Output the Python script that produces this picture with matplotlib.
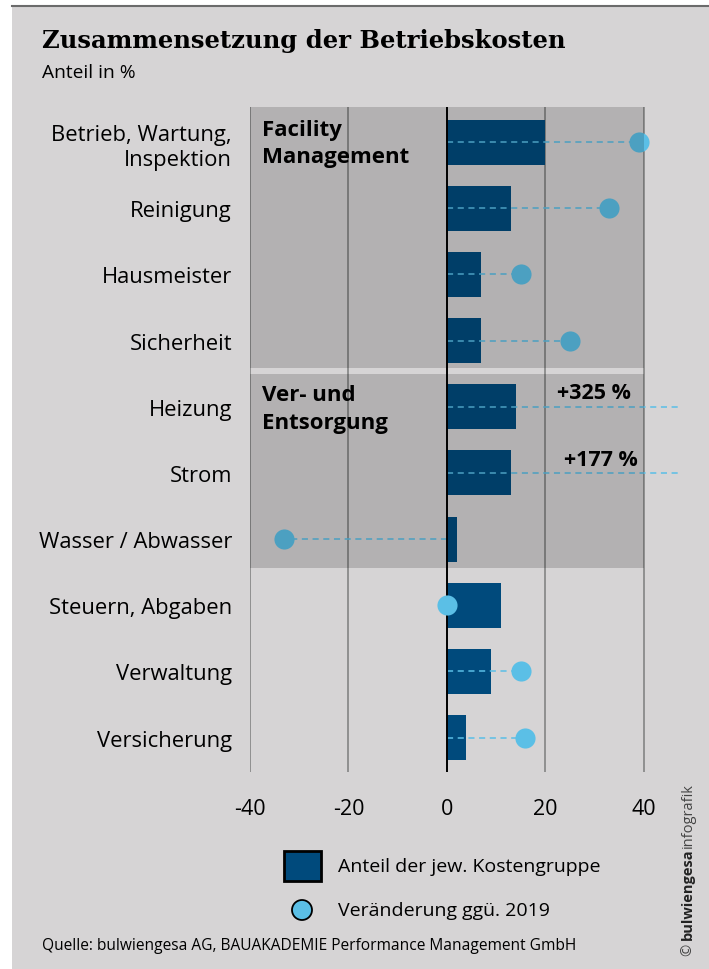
import numpy as np
import matplotlib.pyplot as plt
from matplotlib.patches import Rectangle, Ellipse
from matplotlib.lines import Line2D

plt.rcParams['font.family'] = ['Open Sans', 'DejaVu Sans']

kategorien = ['Betrieb, Wartung,\nInspektion', 'Reinigung', 'Hausmeister', 'Sicherheit',
              'Heizung', 'Strom', 'Wasser / Abwasser', 'Steuern, Abgaben',
              'Verwaltung', 'Versicherung']
anteil = [20, 13, 7, 7, 14, 13, 2, 11, 9, 4]
veraenderung = [39, 33, 15, 25, 325, 177, -33, 0, 15, 16]
x_ticks = [-40, -20, 0, 20, 40]

bg = '#d6d4d5'
bar_col = '#004a7c'
dot_col = '#5bbfe6'

W, H = 709, 970
fig = plt.figure(figsize=(W / 100, H / 100), dpi=100)
fig.patch.set_facecolor('white')
fig.patches.append(Rectangle((12 / W, 0), 1, 1 - 7 / H, transform=fig.transFigure,
                             facecolor=bg, edgecolor='none', zorder=0))
fig.add_artist(Line2D([12 / W, 1], [1 - 6.5 / H, 1 - 6.5 / H], color='#6b6b6b', lw=1.5))

ax = fig.add_axes([250 / W, 1 - 773 / H, 428 / W, 665 / H])
ax.set_zorder(2)
ax.set_facecolor('none')
xmax = 47
ax.set_xlim(-40, xmax)
ax.set_ylim(9.52, -0.53)
y = np.arange(len(kategorien))

for g in [-40, -20, 20, 40]:
    ax.axvline(g, color='#8a8a8a', lw=1.3, zorder=1)
ax.axvline(0, color='black', lw=1.4, zorder=4)

ax.barh(y, anteil, height=0.68, color=bar_col, zorder=2)

for yi, v in zip(y, veraenderung):
    end = min(v, xmax)
    ax.plot([0, end], [yi, yi], color=dot_col, lw=1.1, ls=(0, (4, 3)), zorder=3,
            clip_on=False)
    if v <= xmax:
        ax.scatter(v, yi, s=210, color=dot_col, zorder=5, clip_on=False, linewidths=0)
    else:
        # Werte ausserhalb der Skala als Text
        lx = 37.5 if v > 300 else 38.9
        ax.text(lx, yi - 0.21, '+%d %%' % v, ha='right', va='center', fontsize=15.5,
                fontweight='bold', zorder=7)

# dunkle Ueberlagerung der beiden Gruppen
ax.add_patch(Rectangle((-40, -0.53), 80, 3.94, facecolor='black', alpha=0.16,
                       edgecolor='none', zorder=6))
ax.add_patch(Rectangle((-40, 3.51), 80, 2.93, facecolor='black', alpha=0.16,
                       edgecolor='none', zorder=6))
ax.text(-37.5, -0.35, 'Facility\nManagement', fontsize=16, fontweight='bold',
        va='top', ha='left', linespacing=1.4, zorder=7)
ax.text(-37.5, 3.66, 'Ver- und\nEntsorgung', fontsize=16,
        fontweight='bold', va='top', ha='left', linespacing=1.4, zorder=7)

ax.set_yticks(y)
ax.set_yticklabels(kategorien, fontsize=15.8, linespacing=1.3)
ax.set_xticks(x_ticks)
ax.set_xticklabels([str(t) for t in x_ticks], fontsize=15.5)
ax.tick_params(axis='y', length=0, pad=13)
ax.tick_params(axis='x', length=0, pad=19)
for s in ax.spines.values():
    s.set_visible(False)

fig.text(42 / W, 1 - 41 / H, 'Zusammensetzung der Betriebskosten', family='DejaVu Serif',
         fontweight='bold', fontsize=17.5, va='center', ha='left')
fig.text(42 / W, 1 - 73 / H, 'Anteil in %', fontsize=13.8, va='center', ha='left')

# Legende
fig.patches.append(Rectangle((284 / W, 1 - 882 / H), 37 / W, 30 / H, transform=fig.transFigure,
                             facecolor=bar_col, edgecolor='black', lw=2, zorder=3))
fig.patches.append(Ellipse((302 / W, 1 - 911 / H), 20 / W, 20 / H, transform=fig.transFigure,
                           facecolor=dot_col, edgecolor='black', lw=1.3, zorder=3))
fig.text(338 / W, 1 - 867 / H, 'Anteil der jew. Kostengruppe', fontsize=14, va='center')
fig.text(338 / W, 1 - 911 / H, 'Veränderung ggü. 2019', fontsize=14, va='center')

fig.text(42 / W, 1 - 946 / H, 'Quelle: bulwiengesa AG, BAUAKADEMIE Performance Management GmbH',
         fontsize=11.2, va='center')

fig.text(688 / W, 1 - 956 / H, '© ', rotation=90, fontsize=10.5, color='#444444',
         va='bottom', ha='center')
fig.text(688 / W, 1 - 940 / H, 'bulwiengesa', rotation=90, fontsize=10.5, fontweight='bold',
         color='#222222', va='bottom', ha='center')
fig.text(688 / W, 1 - 848 / H, 'infografik', rotation=90, fontsize=10.5, color='#444444',
         va='bottom', ha='center')

fig.savefig('out.png', dpi=100, facecolor=fig.get_facecolor())
